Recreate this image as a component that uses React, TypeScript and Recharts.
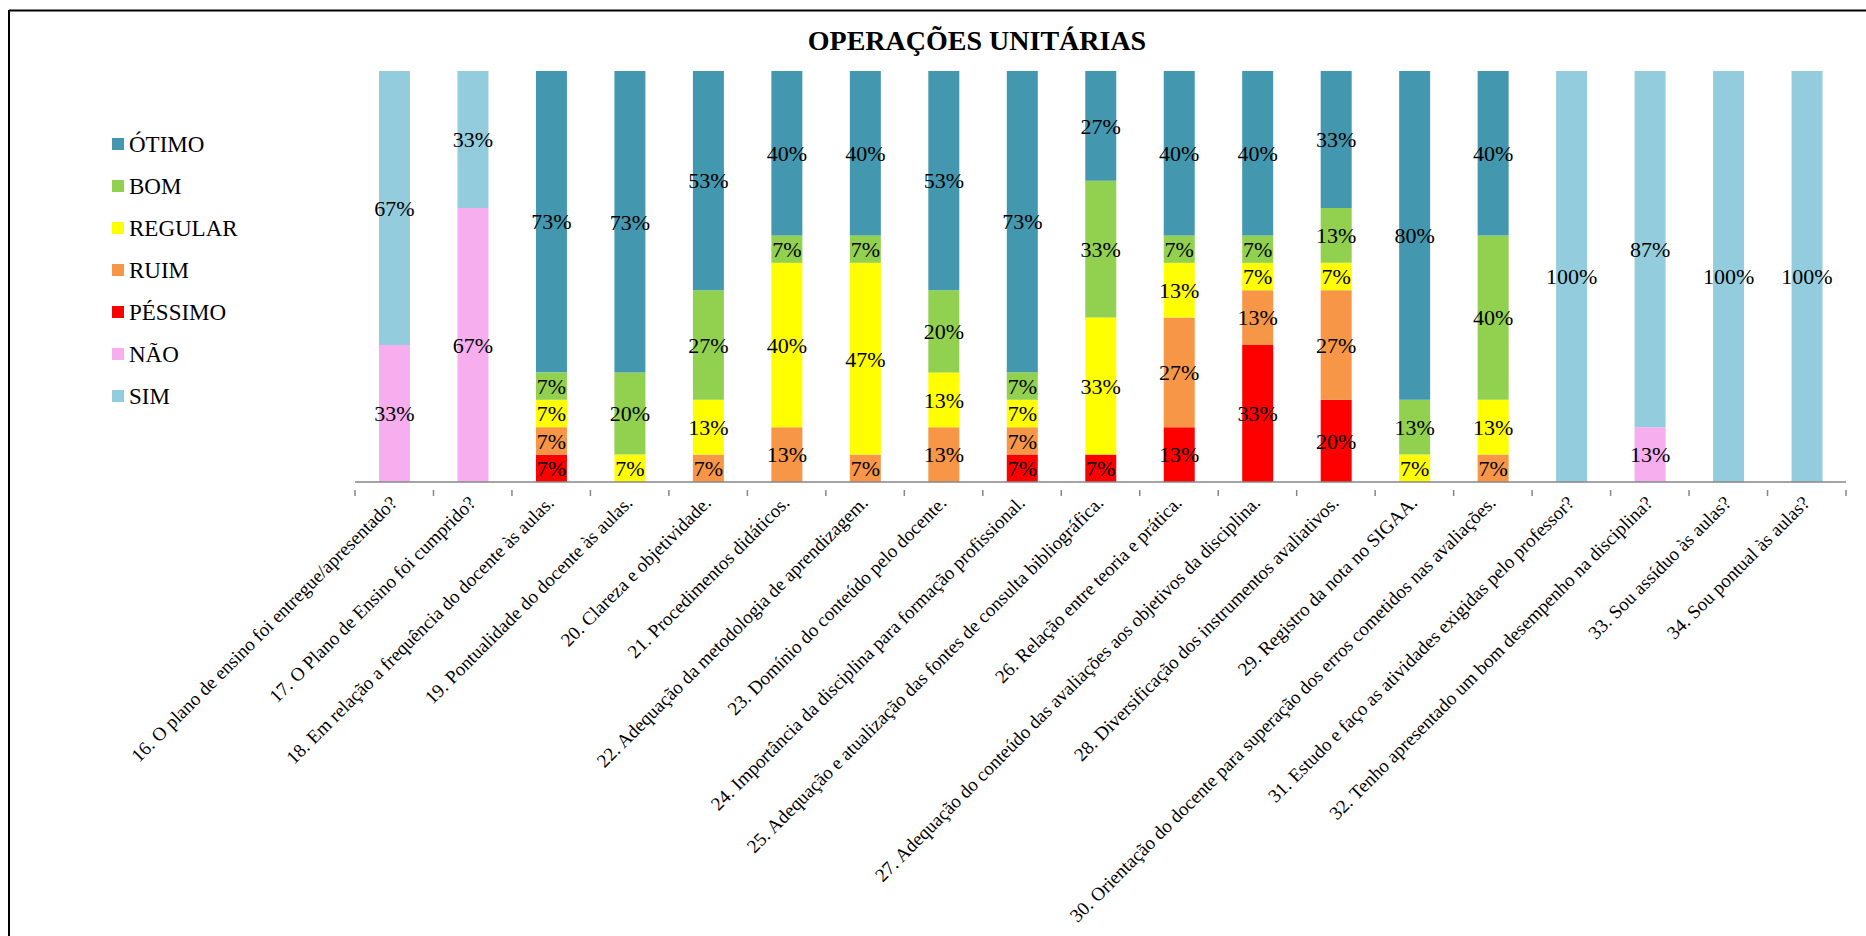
import React from 'react';
import { BarChart, Bar, XAxis, YAxis, LabelList } from 'recharts';

const categories = [
  '16. O plano de ensino foi entregue/apresentado?',
  '17.  O Plano de Ensino foi cumprido?',
  '18.  Em relação a frequência do docente às aulas.',
  '19. Pontualidade do docente às aulas.',
  '20. Clareza e objetividade.',
  '21. Procedimentos didáticos.',
  '22. Adequação da metodologia de aprendizagem.',
  '23. Domínio do conteúdo pelo docente.',
  '24. Importância da disciplina para formação profissional.',
  '25. Adequação e atualização das fontes de consulta bibliográfica.',
  '26. Relação entre teoria e prática.',
  '27. Adequação do conteúdo das avaliações aos objetivos da disciplina.',
  '28. Diversificação dos instrumentos avaliativos.',
  '29. Registro da nota no SIGAA.',
  '30. Orientação do docente para superação dos erros cometidos nas avaliações.',
  '31. Estudo e faço as atividades exigidas pelo professor?',
  '32. Tenho apresentado um bom desempenho na disciplina?',
  '33. Sou assíduo às aulas?',
  '34. Sou pontual às aulas?',
];

const pessimo = [0, 0, 6.67, 0, 0, 0, 0, 0, 6.67, 6.67, 13.33, 33.33, 20, 0, 0, 0, 0, 0, 0];
const ruim = [0, 0, 6.67, 0, 6.67, 13.33, 6.67, 13.33, 6.67, 0, 26.67, 13.33, 26.67, 0, 6.67, 0, 0, 0, 0];
const regular = [0, 0, 6.67, 6.67, 13.33, 40, 46.67, 13.33, 6.67, 33.33, 13.33, 6.67, 6.67, 6.67, 13.33, 0, 0, 0, 0];
const bom = [0, 0, 6.67, 20, 26.67, 6.67, 6.67, 20, 6.67, 33.33, 6.67, 6.67, 13.33, 13.33, 40, 0, 0, 0, 0];
const otimo = [0, 0, 73.33, 73.33, 53.33, 40, 40, 53.33, 73.33, 26.67, 40, 40, 33.33, 80, 40, 0, 0, 0, 0];
const nao = [33.33, 66.67, 0, 0, 0, 0, 0, 0, 0, 0, 0, 0, 0, 0, 0, 0, 13.33, 0, 0];
const sim = [66.67, 33.33, 0, 0, 0, 0, 0, 0, 0, 0, 0, 0, 0, 0, 0, 100, 86.67, 100, 100];

// stacking order, bottom to top
const series = [
  { key: 'pessimo', name: 'PÉSSIMO', color: '#FF0000', values: pessimo },
  { key: 'ruim', name: 'RUIM', color: '#F79646', values: ruim },
  { key: 'regular', name: 'REGULAR', color: '#FFFF00', values: regular },
  { key: 'bom', name: 'BOM', color: '#92D050', values: bom },
  { key: 'otimo', name: 'ÓTIMO', color: '#4397AF', values: otimo },
  { key: 'nao', name: 'NÃO', color: '#F6AEEE', values: nao },
  { key: 'sim', name: 'SIM', color: '#93CDDD', values: sim },
];

const legendOrder = ['otimo', 'bom', 'regular', 'ruim', 'pessimo', 'nao', 'sim'];

const data = categories.map((name, i) => {
  const row: Record<string, any> = { name };
  series.forEach((s) => {
    row[s.key] = s.values[i];
  });
  return row;
});

const FONT = "'Liberation Serif', 'Times New Roman', serif";

const CategoryTick = (props: any) => {
  const { x, y, payload, index } = props;
  const half = payload.offset || 0;
  const tx = x + 4;
  const ty = y + 14;
  return (
    <g>
      <line x1={x - half} y1={y} x2={x - half} y2={y + 6} stroke="#868686" strokeWidth={1.5} />
      {index === categories.length - 1 && (
        <line x1={x + half} y1={y} x2={x + half} y2={y + 6} stroke="#868686" strokeWidth={1.5} />
      )}
      <text
        x={tx}
        y={ty}
        transform={`rotate(-45 ${tx} ${ty})`}
        textAnchor="end"
        fontSize={19}
        fontFamily={FONT}
        fill="#000"
      >
        {payload.value}
      </text>
    </g>
  );
};

const fmt = (v: any) => (typeof v === 'number' && v > 0 ? `${Math.round(v)}%` : '');

export default function App() {
  return (
    <div
      style={{
        position: 'absolute',
        left: 0,
        top: 0,
        width: 1866,
        height: 936,
        background: '#fff',
        overflow: 'hidden',
        fontFamily: FONT,
      }}
    >
      <div style={{ position: 'absolute', left: 0, top: 0 }}>
        <BarChart
          width={1866}
          height={936}
          data={data}
          margin={{ top: 71, left: 355, right: 20, bottom: 0 }}
          barSize={31}
        >
          <XAxis
            dataKey="name"
            interval={0}
            height={454}
            tick={<CategoryTick />}
            tickLine={false}
            axisLine={{ stroke: '#868686', strokeWidth: 1.5 }}
          />
          <YAxis hide domain={[0, 100]} />
          {series.map((s) => (
            <Bar key={s.key} dataKey={s.key} name={s.name} stackId="a" fill={s.color} isAnimationActive={false}>
              <LabelList
                dataKey={s.key}
                position="center"
                formatter={fmt}
                fill="#000"
                fontSize={22}
                fontFamily={FONT}
              />
            </Bar>
          ))}
        </BarChart>
      </div>
      <svg
        width={1866}
        height={936}
        style={{ position: 'absolute', left: 0, top: 0, pointerEvents: 'none' }}
        fontFamily={FONT}
      >
        <line x1={9} y1={10.5} x2={1866} y2={10.5} stroke="#000" strokeWidth={2} />
        <line x1={9} y1={10} x2={9} y2={936} stroke="#000" strokeWidth={2} />
        <text x={977} y={50} textAnchor="middle" fontSize={28} fontWeight={700} fill="#000">
          OPERAÇÕES UNITÁRIAS
        </text>
        {legendOrder.map((k, i) => {
          const s = series.find((x) => x.key === k)!;
          return (
            <g key={k}>
              <rect x={112} y={138 + i * 42} width={12} height={12} fill={s.color} />
              <text x={129} y={152 + i * 42} fontSize={23} fill="#000">
                {s.name}
              </text>
            </g>
          );
        })}
      </svg>
    </div>
  );
}
